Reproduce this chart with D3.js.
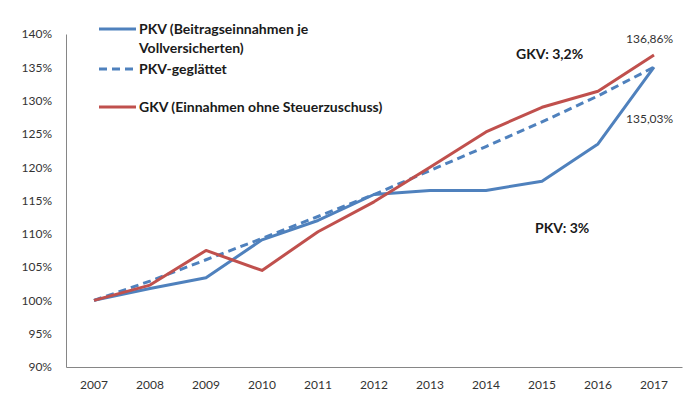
<!DOCTYPE html>
<html>
<head>
<meta charset="utf-8">
<script src="https://cdn.jsdelivr.net/npm/d3@7"></script>
<style>
  body { margin: 0; background: #fff; }
  svg text { font-family: Lato, "Open Sans", sans-serif; }
</style>
</head>
<body>
<div id="chart"></div>
<script>
// Chart data (index, 2007 = 100%)
const years = ["2007", "2008", "2009", "2010", "2011", "2012", "2013", "2014", "2015", "2016", "2017"];
const pkv = [100, 101.8, 103.4, 109.1, 112.0, 115.9, 116.5, 116.5, 117.9, 123.5, 135.03];
const pkvSmooth = [100, 102.9, 106.1, 109.3, 112.6, 115.9, 119.5, 123.1, 126.8, 130.7, 135.03];
const gkv = [100, 102.3, 107.5, 104.5, 110.3, 114.8, 120.0, 125.3, 129.0, 131.4, 136.86];
const yTicks = [90, 95, 100, 105, 110, 115, 120, 125, 130, 135, 140];

const legendLabels = [
  ["PKV (Beitragseinnahmen je", "Vollversicherten)"],
  ["PKV-geglättet"],
  ["GKV (Einnahmen ohne Steuerzuschuss)"],
];

const width = 700,
  height = 419;
const margin = { top: 34, right: 18, bottom: 52, left: 66 };

const blue = "#4f81bd",
  red = "#c0504d";

const svg = d3
  .select("#chart")
  .append("svg")
  .attr("width", width)
  .attr("height", height);

const xScale = d3
  .scaleBand()
  .domain(years)
  .range([margin.left, width - margin.right])
  .padding(0);

const yScale = d3
  .scaleLinear()
  .domain([90, 140])
  .range([height - margin.bottom, margin.top]);

const xPos = (i) => xScale(years[i]) + xScale.bandwidth() / 2;

// Y axis
const yAxis = svg
  .append("g")
  .attr("transform", `translate(${margin.left},0)`)
  .call(
    d3
      .axisLeft(yScale)
      .tickValues(yTicks)
      .tickSize(0)
      .tickPadding(14)
      .tickFormat((d) => d + "%")
  );
yAxis.select(".domain").attr("stroke", "#868686");
yAxis.selectAll("text").attr("font-size", 12).attr("fill", "#333");

// X axis
const xAxis = svg
  .append("g")
  .attr("transform", `translate(0,${height - margin.bottom})`)
  .call(d3.axisBottom(xScale).tickSize(0).tickPadding(13));
xAxis.select(".domain").attr("stroke", "#868686");
xAxis.selectAll("text").attr("font-size", 12).attr("fill", "#333");

// Lines
const line = d3
  .line()
  .x((d, i) => xPos(i))
  .y((d) => yScale(d));

svg
  .append("path")
  .datum(pkvSmooth)
  .attr("fill", "none")
  .attr("stroke", blue)
  .attr("stroke-width", 3)
  .attr("stroke-dasharray", "8,5")
  .attr("d", line);

svg
  .append("path")
  .datum(pkv)
  .attr("fill", "none")
  .attr("stroke", blue)
  .attr("stroke-width", 3)
  .attr("stroke-linejoin", "round")
  .attr("d", line);

svg
  .append("path")
  .datum(gkv)
  .attr("fill", "none")
  .attr("stroke", red)
  .attr("stroke-width", 3)
  .attr("stroke-linejoin", "round")
  .attr("d", line);

// Legend
const legendItems = [
  { y: 29, color: blue, dash: null, lines: legendLabels[0] },
  { y: 69, color: blue, dash: "8,5", lines: legendLabels[1] },
  { y: 107, color: red, dash: null, lines: legendLabels[2] },
];

legendItems.forEach((item) => {
  svg
    .append("line")
    .attr("x1", 99)
    .attr("x2", 136)
    .attr("y1", item.y)
    .attr("y2", item.y)
    .attr("stroke", item.color)
    .attr("stroke-width", 3)
    .attr("stroke-dasharray", item.dash);
  item.lines.forEach((t, k) => {
    svg
      .append("text")
      .attr("x", 139)
      .attr("y", item.y + 5 + k * 19)
      .attr("font-size", 14)
      .attr("font-weight", "bold")
      .attr("fill", "#1a1a1a")
      .text(t);
  });
});

// Annotations
svg
  .append("text")
  .attr("x", 516)
  .attr("y", 59)
  .attr("font-size", 14)
  .attr("font-weight", "bold")
  .attr("fill", "#1a1a1a")
  .text("GKV: 3,2%");

svg
  .append("text")
  .attr("x", 535)
  .attr("y", 233)
  .attr("font-size", 14)
  .attr("font-weight", "bold")
  .attr("fill", "#1a1a1a")
  .text("PKV: 3%");

svg
  .append("text")
  .attr("x", 626)
  .attr("y", 43)
  .attr("font-size", 12)
  .attr("fill", "#333")
  .text("136,86%");

svg
  .append("text")
  .attr("x", 626)
  .attr("y", 123)
  .attr("font-size", 12)
  .attr("fill", "#333")
  .text("135,03%");
</script>
</body>
</html>
